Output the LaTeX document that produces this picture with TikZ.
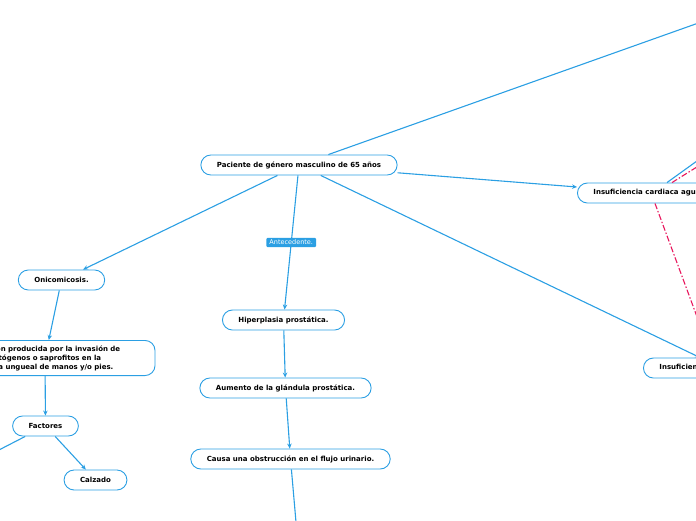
\documentclass[tikz,border=0pt]{standalone}
\usepackage{fontspec}
\setmainfont{DejaVu Sans}
\usetikzlibrary{quotes,arrows.meta}
\definecolor{mmblue}{HTML}{2B9FE3}
\definecolor{mmred}{HTML}{E8175D}
\tikzset{
  tema/.style={draw=mmblue, line width=0.9pt, rounded corners=10pt, fill=white, text=black,
    font=\fontsize{7}{9}\selectfont\bfseries, inner xsep=16pt, inner ysep=3pt, minimum height=20pt},
  relacion/.style={draw=mmred, line width=1.1pt, dash pattern=on 6pt off 2pt on 1.5pt off 2pt},
  etiqueta/.style={fill=mmblue, text=white, font=\fontsize{6.5}{7}\selectfont,
    inner xsep=3pt, inner ysep=2pt, rounded corners=1pt, auto=false, anchor=center}
}

\begin{document}
\begin{tikzpicture}[x=1pt, y=-1pt, >={Stealth[length=5pt,width=4.5pt]},
    every edge/.style={draw=mmblue, line width=1.1pt}]
		\useasboundingbox (0,0) rectangle (696,520);
		\clip (0,0) rectangle (696,520);
		%\node (nombre) at(x,y) [estilo] {texto} ;
		\node (node 1) at(299,165) [tema] {Paciente de género masculino de 65 años} ;
		\node (node 2) at(577,193) [tema,anchor=west] {Insuficiencia cardiaca aguda.} ;
		\node (node 3) at(643,368) [tema,anchor=west] {Insuficiencia renal aguda.} ;
		\node (node 4) at(61.5,280) [tema] {Onicomicosis.} ;
		\node (node 5) at(45,358) [tema,text width=188pt,align=center,inner ysep=5pt] {Infección producida por la invasión de\\patógenos o saprofitos en la\\lámina ungueal de manos y/o pies.} ;
		\node (node 6) at(45.5,426) [tema] {Factores} ;
		\node (node 7) at(95.5,480) [tema] {Calzado} ;
		\node (node 8) at(283.5,320) [tema] {Hiperplasia prostática.} ;
		\node (node 9) at(285.5,388) [tema] {Aumento de la glándula prostática.} ;
		\node (node 10) at(290.5,459) [tema] {Causa una obstrucción en el flujo urinario.} ;

%ramas que salen del cuadro
		\coordinate (fuera 1) at(780,-6) ;
		\coordinate (fuera 2) at(-40,470) ;
		\coordinate (fuera 3) at(298,545) ;
		\coordinate (fuera 4) at(740,130) ;
		\coordinate (fuera 5) at(740,140) ;
		\coordinate (fuera 6) at(716,368) ;

		%\path (nodo A) edge[opciones] (nodo B);
		\path
		(node 1) edge (fuera 1)
		(node 1) edge[->] ([yshift=6pt]node 2.west)
		(node 1) edge[->] ([xshift=57pt]node 3.north west)
		(node 1) edge[->] (node 4)
		(node 1) edge[->,"Antecedente." etiqueta] (node 8)
		(node 4) edge[->] (node 5)
		(node 5) edge[->] (node 6)
		(node 6) edge[->] (node 7)
		(node 6) edge (fuera 2)
		(node 8) edge[->] (node 9)
		(node 9) edge[->] (node 10)
		(node 10) edge (fuera 3)
		([xshift=90pt]node 2.north west) edge (fuera 4)
		([xshift=95pt]node 2.north west) edge[relacion] (fuera 5)
		([xshift=78pt]node 2.south west) edge[relacion] (fuera 6)
		;
	\end{tikzpicture}
\end{document}
